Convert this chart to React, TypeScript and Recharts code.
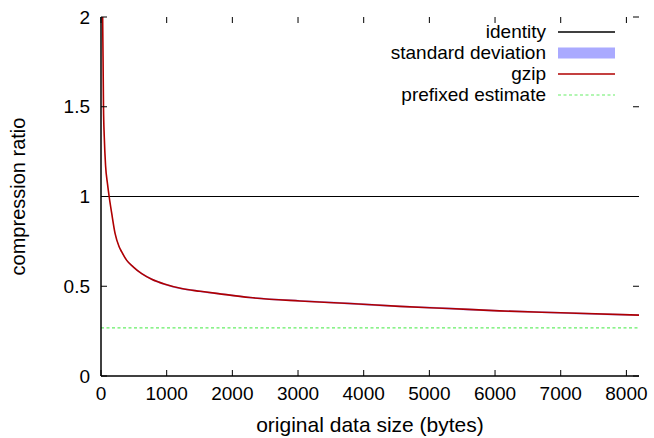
import { Area, ComposedChart, Legend, Line, ReferenceLine, XAxis, YAxis } from "recharts"

// original data size in bytes
const sizes = [
  15, 25, 31, 38, 50, 70, 99, 124, 164, 215, 276, 316, 392, 494, 620, 772, 975, 1227, 1511, 1784, 2270,
  3030, 3789, 4548, 5300, 6067, 7000, 8192,
]
// mean gzip compression ratio
const gzipRatio = [
  2.6, 2.0, 1.78, 1.5, 1.33, 1.17, 1.07, 1.0, 0.904, 0.793, 0.72, 0.691, 0.644, 0.607, 0.57, 0.539, 0.511,
  0.487, 0.472, 0.459, 0.437, 0.418, 0.404, 0.388, 0.376, 0.363, 0.352, 0.339,
]
// standard deviation of the ratio
const gzipStd = [
  0.02, 0.02, 0.015, 0.012, 0.01, 0.008, 0.007, 0.006, 0.006, 0.005, 0.005, 0.005, 0.005, 0.005, 0.005,
  0.005, 0.005, 0.005, 0.005, 0.005, 0.005, 0.005, 0.005, 0.005, 0.005, 0.005, 0.005, 0.005,
]
const identityRatio = 1
const prefixedEstimate = 0.268

const xTicks = [0, 1000, 2000, 3000, 4000, 5000, 6000, 7000, 8000]
const yTicks = [0, 0.5, 1, 1.5, 2]
const xMax = 8192

const data = sizes.map((size, i) => ({
  size,
  gzip: gzipRatio[i],
  band: [gzipRatio[i] - gzipStd[i], gzipRatio[i] + gzipStd[i]],
}))

// no serif faces available in the sandbox, this is the closest fallback
const FONT = "Liberation Sans"
const RED = "#b00000"
const BLUE = "#aaaaff"
const GREEN = "#66ee66"

const keyRows = [
  { label: "identity", kind: "line", color: "#000" },
  { label: "standard deviation", kind: "box", color: BLUE },
  { label: "gzip", kind: "line", color: RED },
  { label: "prefixed estimate", kind: "dash", color: GREEN },
]

function Key() {
  return (
    <svg width={260} height={90}>
      {keyRows.map((row, i) => {
        const cy = 12 + i * 21
        return (
          <g key={row.label}>
            <text x={166} y={cy + 6} textAnchor="end" fontSize={19} fill="#000" style={{ fontFamily: FONT }}>
              {row.label}
            </text>
            {row.kind === "box" ? (
              <rect x={178} y={cy - 5.5} width={57} height={11} fill={row.color} />
            ) : (
              <line
                x1={178}
                x2={235}
                y1={cy}
                y2={cy}
                stroke={row.color}
                strokeWidth={row.kind === "dash" ? 1.2 : 1.5}
                strokeDasharray={row.kind === "dash" ? "3 2.5" : undefined}
              />
            )}
          </g>
        )
      })}
    </svg>
  )
}

const tickStyle = { fontSize: 19, fill: "#000", style: { fontFamily: FONT } }
const noLabel = () => ""

export default function App() {
  return (
    <div style={{ position: "absolute", left: 0, top: 0, fontFamily: FONT, background: "#fff" }}>
      <ComposedChart width={654} height={438} data={data} margin={{ top: 16, right: 14, bottom: 0, left: 0 }}>
        <XAxis
          dataKey="size"
          type="number"
          domain={[0, xMax]}
          ticks={xTicks}
          height={62}
          tickSize={-6}
          tickMargin={17}
          tick={tickStyle}
          axisLine={{ stroke: "#000", strokeWidth: 1.5 }}
          tickLine={{ stroke: "#000" }}
          label={{ value: "original data size (bytes)", position: "insideBottom", offset: 6, fontSize: 21, fill: "#000", style: { fontFamily: FONT } }}
        />
        <XAxis
          xAxisId="top"
          dataKey="size"
          orientation="top"
          type="number"
          domain={[0, xMax]}
          ticks={xTicks}
          height={1}
          tickSize={-6}
          tickFormatter={noLabel}
          axisLine={false}
          tickLine={{ stroke: "#000" }}
        />
        <YAxis
          type="number"
          domain={[0, 2]}
          ticks={yTicks}
          allowDataOverflow
          width={101}
          tickSize={-6}
          tickMargin={17}
          tick={tickStyle}
          axisLine={{ stroke: "#000", strokeWidth: 1.5 }}
          tickLine={{ stroke: "#000" }}
          label={{ value: "compression ratio", angle: -90, position: "insideLeft", offset: 18, fontSize: 20, fill: "#000", style: { textAnchor: "middle", fontFamily: FONT } }}
        />
        <YAxis
          yAxisId="right"
          orientation="right"
          type="number"
          domain={[0, 2]}
          ticks={yTicks}
          allowDataOverflow
          width={1}
          tickSize={-6}
          tickFormatter={noLabel}
          axisLine={false}
          tickLine={{ stroke: "#000" }}
        />
        <ReferenceLine y={identityRatio} stroke="#000" strokeWidth={1.2} />
        <Area dataKey="band" type="monotone" stroke="none" fill={BLUE} fillOpacity={1} isAnimationActive={false} />
        <Line dataKey="gzip" type="monotone" stroke={RED} strokeWidth={1.6} dot={false} isAnimationActive={false} />
        <ReferenceLine y={prefixedEstimate} stroke={GREEN} strokeWidth={1.2} strokeDasharray="3 2.5" />
        {/* mirror axes need a series to register against */}
        <Line xAxisId="top" yAxisId="right" dataKey="gzip" stroke="none" dot={false} legendType="none" isAnimationActive={false} />
        <Legend
          content={() => <Key />}
          layout="horizontal"
          verticalAlign="middle"
          align="center"
          wrapperStyle={{ left: 380, top: 20, width: 260, height: 90 }}
        />
      </ComposedChart>
    </div>
  )
}
